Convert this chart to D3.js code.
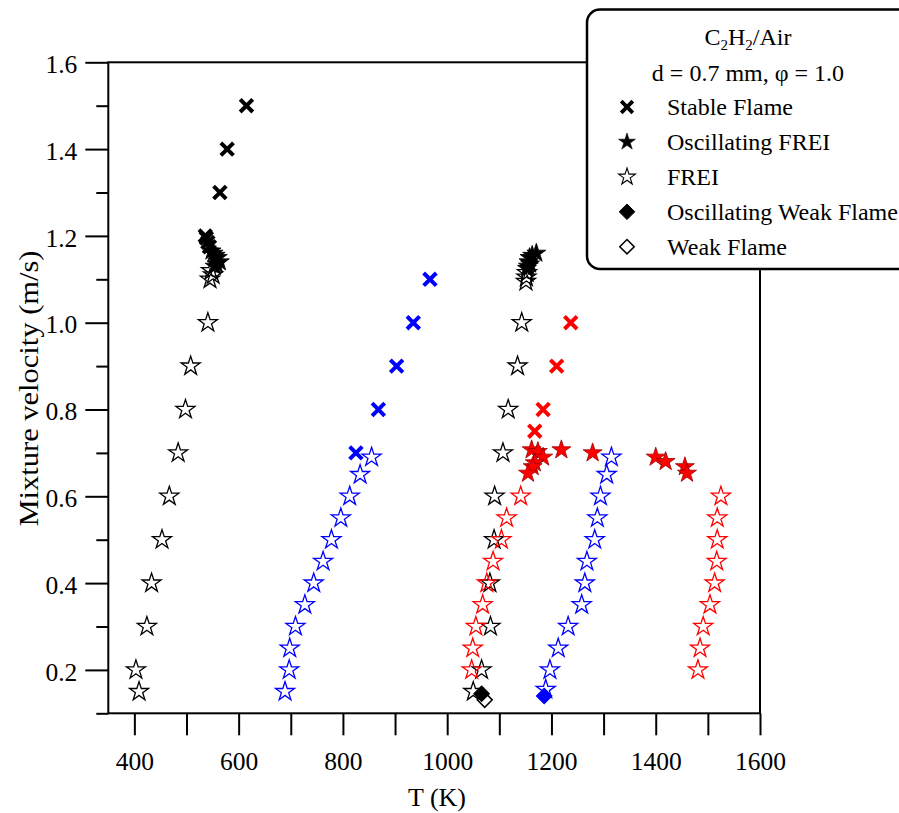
<!DOCTYPE html>
<html>
<head>
<meta charset="utf-8">
<script src="https://cdn.jsdelivr.net/npm/d3@7/dist/d3.min.js"></script>
<style>
  html, body { margin: 0; padding: 0; background: #fff; }
  svg { display: block; }
  text { font-family: "Liberation Serif", "DejaVu Serif", serif; fill: #000; }
</style>
</head>
<body>
<svg id="chart" width="899" height="813"></svg>
<script>
// ---------------- DATA ----------------
const xTickValues = [400, 500, 600, 700, 800, 900, 1000, 1100, 1200, 1300, 1400, 1500, 1600];
const xTickLabels = ["400", "", "600", "", "800", "", "1000", "", "1200", "", "1400", "", "1600"];
const yTickValues = [0.1, 0.2, 0.3, 0.4, 0.5, 0.6, 0.7, 0.8, 0.9, 1.0, 1.1, 1.2, 1.3, 1.4, 1.5, 1.6];
const yTickLabels = ["", "0.2", "", "0.4", "", "0.6", "", "0.8", "", "1.0", "", "1.2", "", "1.4", "", "1.6"];

// Stable Flame (X)
const stableBlackT = [615, 578, 564, 536, 538, 541, 544];
const stableBlackV = [1.5, 1.4, 1.3, 1.20, 1.195, 1.185, 1.175];
const stableBlueT  = [967, 935, 903, 868, 825];
const stableBlueV  = [1.1, 1.0, 0.9, 0.8, 0.7];
const stableRedT   = [1237, 1210, 1184, 1168];
const stableRedV   = [1.0, 0.9, 0.8, 0.75];

// Oscillating FREI (filled star)
const oscFreiBlackT = [548, 552, 556, 560, 564, 558, 554, 1171, 1163, 1158, 1156, 1159, 1155, 1153];
const oscFreiBlackV = [1.165, 1.16, 1.155, 1.15, 1.14, 1.135, 1.13, 1.16, 1.155, 1.15, 1.14, 1.135, 1.13, 1.125];
const oscFreiRedT = [1162, 1174, 1184, 1168, 1164, 1155, 1219, 1279, 1400, 1419, 1456, 1460];
const oscFreiRedV = [0.707, 0.703, 0.69, 0.677, 0.668, 0.653, 0.707, 0.70, 0.69, 0.68, 0.668, 0.653];

// FREI (open star)
const freiBlackT = [547, 551, 545, 541, 508, 498, 484, 467, 453, 433, 424, 403, 409,
                    1153, 1152, 1151, 1143, 1135, 1117, 1107, 1091, 1090, 1082, 1083, 1066, 1050];
const freiBlackV = [1.12, 1.11, 1.10, 1.0, 0.9, 0.8, 0.7, 0.6, 0.5, 0.4, 0.3, 0.2, 0.15,
                    1.115, 1.105, 1.095, 1.0, 0.9, 0.8, 0.7, 0.6, 0.5, 0.4, 0.3, 0.2, 0.15];
const freiBlueT = [855, 833, 813, 796, 778, 762, 744, 727, 709, 698, 697, 689,
                   1315, 1306, 1294, 1288, 1283, 1268, 1264, 1258, 1232, 1213, 1197, 1189];
const freiBlueV = [0.69, 0.65, 0.6, 0.55, 0.5, 0.45, 0.4, 0.35, 0.3, 0.25, 0.2, 0.15,
                   0.69, 0.65, 0.6, 0.55, 0.5, 0.45, 0.4, 0.35, 0.3, 0.25, 0.2, 0.155];
const freiRedT = [1141, 1114, 1104, 1088, 1076, 1068, 1055, 1049, 1047,
                  1525, 1518, 1518, 1517, 1513, 1504, 1491, 1485, 1481];
const freiRedV = [0.6, 0.55, 0.5, 0.45, 0.4, 0.35, 0.3, 0.25, 0.2,
                  0.6, 0.55, 0.5, 0.45, 0.4, 0.35, 0.3, 0.25, 0.2];

// Weak Flame (open diamond)
const weakBlackT = [1072];
const weakBlackV = [0.131];
// Oscillating Weak Flame (filled diamond)
const oscWeakBlackT = [1066];
const oscWeakBlackV = [0.145];
const oscWeakBlueT = [1186];
const oscWeakBlueV = [0.14];

const legendTitle2 = "d = 0.7 mm, φ = 1.0";
const legendLabels = ["Stable Flame", "Oscillating FREI", "FREI", "Oscillating Weak Flame", "Weak Flame"];

// ---------------- CHART ----------------
(function () {
const svg = d3.select("#chart");
const mLeft = 108.3, mRight = 760, mTop = 62.3, mBottom = 713.3;
const x = d3.scaleLinear().domain([350, 1600]).range([mLeft, mRight]);
const y = d3.scaleLinear().domain([0.1, 1.6]).range([mBottom, mTop]);

const BLACK = "#000000", BLUE = "#0000ff", RED = "#ff0000";

function zip(T, V) { return T.map((t, i) => ({ t: t, v: V[i] })); }

const plot = svg.append("g");

const starPath = d3.symbol().type(d3.symbolStar).size(112)();
const starPathLegend = d3.symbol().type(d3.symbolStar).size(88)();
function diamondPath(r) { return `M0,${-r}L${r},0L0,${r}L${-r},0Z`; }
function crossPath(h) { return `M${-h},${-h}L${h},${h}M${-h},${h}L${h},${-h}`; }

function drawOpenStars(T, V, color) {
  plot.append("g").selectAll("path").data(zip(T, V)).join("path")
    .attr("d", starPath)
    .attr("transform", d => `translate(${x(d.t)},${y(d.v)})`)
    .attr("fill", "none").attr("stroke", color).attr("stroke-width", 1.3);
}
function drawFilledStars(T, V, color, edge) {
  plot.append("g").selectAll("path").data(zip(T, V)).join("path")
    .attr("d", starPath)
    .attr("transform", d => `translate(${x(d.t)},${y(d.v)})`)
    .attr("fill", color).attr("stroke", edge).attr("stroke-width", 0.8);
}
function drawCross(T, V, color) {
  plot.append("g").selectAll("path").data(zip(T, V)).join("path")
    .attr("d", crossPath(6.3))
    .attr("transform", d => `translate(${x(d.t)},${y(d.v)})`)
    .attr("fill", "none").attr("stroke", color).attr("stroke-width", 4);
}
function drawDiamond(T, V, color, filled) {
  plot.append("g").selectAll("path").data(zip(T, V)).join("path")
    .attr("d", diamondPath(7.5))
    .attr("transform", d => `translate(${x(d.t)},${y(d.v)})`)
    .attr("fill", filled ? color : "#fff").attr("stroke", color).attr("stroke-width", 1.5);
}

drawOpenStars(freiBlackT, freiBlackV, BLACK);
drawOpenStars(freiBlueT, freiBlueV, BLUE);
drawOpenStars(freiRedT, freiRedV, RED);
drawFilledStars(oscFreiBlackT, oscFreiBlackV, BLACK, "#000");
drawFilledStars(oscFreiRedT, oscFreiRedV, RED, "#900");
drawCross(stableBlackT, stableBlackV, BLACK);
drawCross(stableBlueT, stableBlueV, BLUE);
drawCross(stableRedT, stableRedV, RED);
drawDiamond(weakBlackT, weakBlackV, BLACK, false);
drawDiamond(oscWeakBlackT, oscWeakBlackV, BLACK, true);
drawDiamond(oscWeakBlueT, oscWeakBlueV, BLUE, true);

// frame
svg.append("rect").attr("x", mLeft).attr("y", mTop).attr("width", mRight - mLeft).attr("height", mBottom - mTop)
  .attr("fill", "none").attr("stroke", "#000").attr("stroke-width", 2);

// x axis ticks
const xAxis = svg.append("g").attr("transform", `translate(0,${mBottom})`)
  .call(d3.axisBottom(x).tickValues(xTickValues).tickSize(22).tickPadding(17)
    .tickFormat((d, i) => xTickLabels[i]));
xAxis.select(".domain").remove();
xAxis.selectAll(".tick line").attr("stroke", "#000").attr("stroke-width", 2);
xAxis.selectAll(".tick text").style("font-size", "25.5px").style("font-family", "Liberation Serif");

// y axis ticks
const yAxis = svg.append("g").attr("transform", `translate(${mLeft},0)`)
  .call(d3.axisLeft(y).tickValues(yTickValues).tickSize(0).tickPadding(31)
    .tickFormat((d, i) => yTickLabels[i]));
yAxis.select(".domain").remove();
yAxis.selectAll(".tick line")
  .attr("x2", (d, i) => yTickLabels[i] ? -23 : -12)
  .attr("stroke", "#000").attr("stroke-width", 2);
yAxis.selectAll(".tick text").style("font-size", "25.5px").style("font-family", "Liberation Serif")
  .attr("dy", "0.4em");

// axis titles
svg.append("text").attr("x", 437).attr("y", 806)
  .attr("text-anchor", "middle").style("font-size", "26px").text("T (K)");
svg.append("text").attr("transform", `translate(38,388.5) rotate(-90)`)
  .attr("text-anchor", "middle").style("font-size", "28px")
  .attr("textLength", 276).attr("lengthAdjust", "spacingAndGlyphs")
  .text("Mixture velocity (m/s)");

// legend
const lg = svg.append("g");
lg.append("rect").attr("x", 587).attr("y", 9.5).attr("width", 340).attr("height", 259.5)
  .attr("rx", 13).attr("ry", 13).attr("fill", "#fff").attr("stroke", "#000").attr("stroke-width", 2.5);
const t1 = lg.append("text").attr("x", 748).attr("y", 45).attr("text-anchor", "middle").style("font-size", "24px");
t1.append("tspan").text("C");
t1.append("tspan").text("2").style("font-size", "15px").attr("dy", 5);
t1.append("tspan").text("H").attr("dy", -5);
t1.append("tspan").text("2").style("font-size", "15px").attr("dy", 5);
t1.append("tspan").text("/Air").attr("dy", -5);
lg.append("text").attr("x", 748).attr("y", 81).attr("text-anchor", "middle").style("font-size", "24px").text(legendTitle2);

const rowY = d3.scaleLinear().domain([0, 4]).range([107, 246.7]);
const symX = 627;
legendLabels.forEach((lab, i) => {
  lg.append("text").attr("x", 667).attr("y", rowY(i) + 8).style("font-size", "24px").text(lab);
});
lg.append("path").attr("d", crossPath(5.8)).attr("transform", `translate(${symX},${rowY(0)})`)
  .attr("stroke", "#000").attr("stroke-width", 3.8).attr("fill", "none");
lg.append("path").attr("d", starPathLegend).attr("transform", `translate(${symX},${rowY(1)})`)
  .attr("fill", "#000").attr("stroke", "#000").attr("stroke-width", 0.6);
lg.append("path").attr("d", starPathLegend).attr("transform", `translate(${symX},${rowY(2)})`)
  .attr("fill", "none").attr("stroke", "#000").attr("stroke-width", 1.1);
lg.append("path").attr("d", diamondPath(7.8)).attr("transform", `translate(${symX},${rowY(3)})`)
  .attr("fill", "#000").attr("stroke", "#000").attr("stroke-width", 1);
lg.append("path").attr("d", diamondPath(7.2)).attr("transform", `translate(${symX},${rowY(4)})`)
  .attr("fill", "#fff").attr("stroke", "#000").attr("stroke-width", 1.5);
})();
</script>
</body>
</html>
